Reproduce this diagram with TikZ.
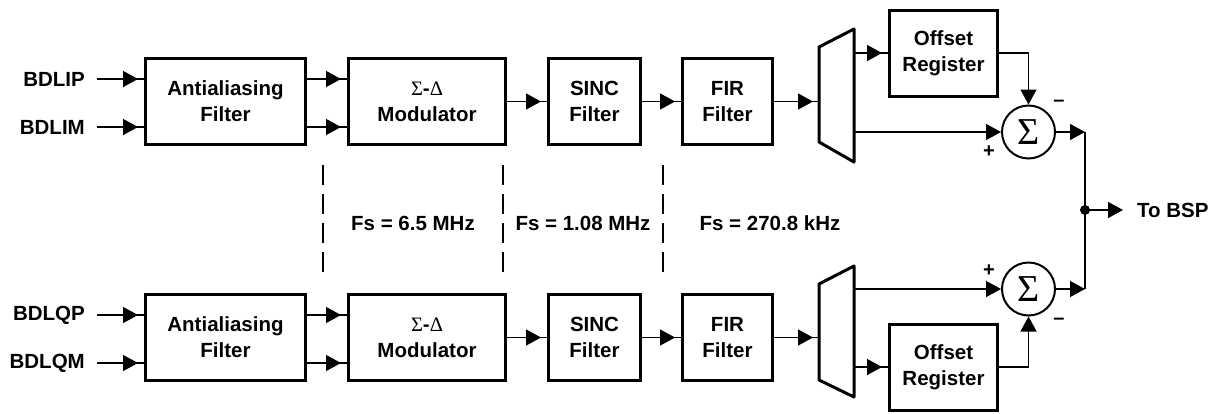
\documentclass[tikz,border=0pt]{standalone}
\usepackage{fontspec}
\setmainfont{Liberation Sans}
\newfontfamily\grk{Liberation Serif}
\usetikzlibrary{arrows.meta, positioning}
\newcommand{\sdmod}{{\grk\mdseries Σ}-{\grk\mdseries Δ}}
\tikzset{
  blk/.style={draw, line width=3pt, align=center, inner sep=0pt, minimum height=86pt,
    font=\fontsize{20.5}{26}\selectfont\bfseries},
  sig/.style={line width=1.4pt, postaction={draw, line width=1.4pt,
    -{Triangle[length=15pt,width=16pt]}, shorten >=6pt}},
  sigc/.style={line width=1.4pt, -{Triangle[length=15pt,width=16pt]}},
  sum/.style={draw, circle, line width=2pt, minimum size=53pt, inner sep=0pt,
    font=\grk\fontsize{38}{38}\selectfont},
  lbl/.style={inner sep=0pt, font=\fontsize{20.5}{24}\selectfont\bfseries},
  sgn/.style={inner sep=0pt, font=\fontsize{20}{20}\selectfont\bfseries},
  fence/.style={line width=1.2pt, dash pattern=on 20pt off 9pt},
}

\begin{document}
\begin{tikzpicture}[x=1pt,y=-1pt]
\useasboundingbox (0,0) rectangle (1220,413);

% I channel
\node[lbl, anchor=east] (bdlip) at (85,79) {BDLIP};
\node[lbl, anchor=east] (bdlim) at (85,127) {BDLIM};
\node[blk, minimum width=160pt] (aa1) at (225.5,101.5) {Antialiasing\\Filter};
\node[blk, minimum width=157pt] (mod1) at (427,101.5) {\sdmod\\Modulator};
\node[blk, minimum width=92pt] (sinc1) at (594.5,101.5) {SINC\\Filter};
\node[blk, minimum width=90pt] (fir1) at (727.5,101.5) {FIR\\Filter};
\node[blk, minimum width=108pt] (off1) at (943.5,53) {Offset\\Register};
\node[sum] (sum1) at (1028.5,132) {Σ};
\node[sgn] (plus1) at (989,152) {+};
\node[sgn] (minus1) at (1059,103) {–};
\draw[line width=3pt, line join=round] (819,47) -- (854,29) -- (854,162) -- (819,142) -- cycle;
\coordinate (mx1in) at (819,101.5);
\coordinate (mx1a) at (854,53);
\coordinate (mx1b) at (854,132);
\coordinate (bus1) at (1085,132);

% Q channel
\node[lbl, anchor=east] (bdlqp) at (85,315) {BDLQP};
\node[lbl, anchor=east] (bdlqm) at (85,363) {BDLQM};
\node[blk, minimum width=160pt] (aa2) at (225.5,337.5) {Antialiasing\\Filter};
\node[blk, minimum width=157pt] (mod2) at (427,337.5) {\sdmod\\Modulator};
\node[blk, minimum width=92pt] (sinc2) at (594.5,337.5) {SINC\\Filter};
\node[blk, minimum width=90pt] (fir2) at (727.5,337.5) {FIR\\Filter};
\node[blk, minimum width=108pt] (off2) at (943.5,367) {Offset\\Register};
\node[sum] (sum2) at (1028.5,289) {Σ};
\node[sgn] (plus2) at (989,271) {+};
\node[sgn] (minus2) at (1059,321) {–};
\draw[line width=3pt, line join=round] (819,284) -- (854,266) -- (854,397) -- (819,380) -- cycle;
\coordinate (mx2in) at (819,337.5);
\coordinate (mx2a) at (854,289);
\coordinate (mx2b) at (854,367);
\coordinate (bus2) at (1085,289);

% sample rates
\draw[fence] (323,165) -- (323,279);
\draw[fence] (503,165) -- (503,279);
\draw[fence] (663,165) -- (663,279);
\node[lbl] (fs1) at (413,223) {Fs = 6.5 MHz};
\node[lbl] (fs2) at (583,223) {Fs = 1.08 MHz};
\node[lbl] (fs3) at (770,223) {Fs = 270.8 kHz};

% output
\coordinate (jn) at (1085,210);
\node[lbl, anchor=west] (tobsp) at (1137,210) {To BSP};

\draw[sig] ([xshift=12pt]bdlip.east) -- (aa1.west |- bdlip.east);
\draw[sig] ([xshift=12pt]bdlim.east) -- (aa1.west |- bdlim.east);
\draw[sig] (aa1.east |- bdlip.east) -- (mod1.west |- bdlip.east);
\draw[sig] (aa1.east |- bdlim.east) -- (mod1.west |- bdlim.east);
\draw[sig] (mod1.east) -- (sinc1.west);
\draw[sig] (sinc1.east) -- (fir1.west);
\draw[sig] (fir1.east) -- (mx1in);
\draw[sig] (mx1a) -- (off1.west |- mx1a);
\draw[sigc] (mx1b) -- (sum1.west);
\draw[sigc] (off1.east) -| (sum1.north);
\draw[sigc] (sum1.east) -- (bus1);

\draw[sig] ([xshift=12pt]bdlqp.east) -- (aa2.west |- bdlqp.east);
\draw[sig] ([xshift=12pt]bdlqm.east) -- (aa2.west |- bdlqm.east);
\draw[sig] (aa2.east |- bdlqp.east) -- (mod2.west |- bdlqp.east);
\draw[sig] (aa2.east |- bdlqm.east) -- (mod2.west |- bdlqm.east);
\draw[sig] (mod2.east) -- (sinc2.west);
\draw[sig] (sinc2.east) -- (fir2.west);
\draw[sig] (fir2.east) -- (mx2in);
\draw[sigc] (mx2a) -- (sum2.west);
\draw[sig] (mx2b) -- (off2.west |- mx2b);
\draw[sigc] (off2.east) -| (sum2.south);
\draw[sigc] (sum2.east) -- (bus2);

\draw[line width=1.4pt] (bus1) -- (jn) -- (bus2);
\fill (jn) circle (5pt);
\draw[sigc] (jn) -- ([xshift=-14pt]tobsp.west);
\end{tikzpicture}
\end{document}
